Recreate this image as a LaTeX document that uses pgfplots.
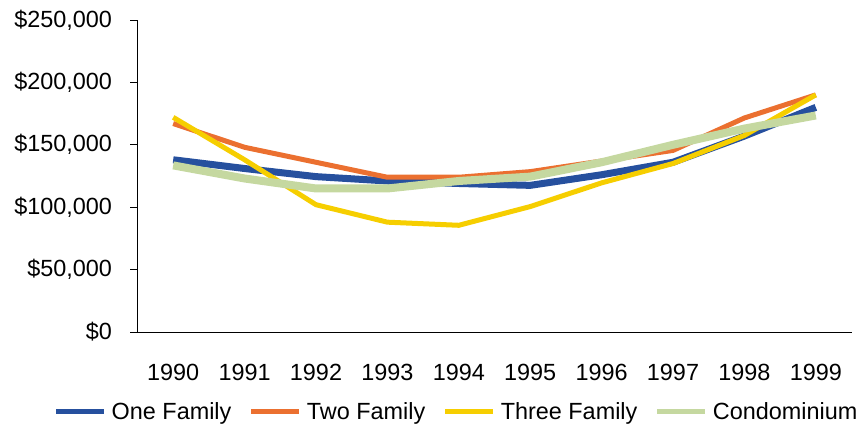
\documentclass[border=0pt]{standalone}
\usepackage{pgfplots}
\pgfplotsset{compat=1.18}
\usepackage{fontspec}
\setmainfont{Liberation Sans}
\definecolor{cOne}{RGB}{38,80,158}
\definecolor{cTwo}{RGB}{235,112,48}
\definecolor{cThree}{RGB}{246,206,0}
\definecolor{cCondo}{RGB}{197,216,160}
\begin{document}
\begin{tikzpicture}
\useasboundingbox (-137.5bp,-93bp) rectangle (721.5bp,332bp);
\begin{axis}[
  at={(0,0)}, anchor=south west,
  scale only axis,
  width=714bp, height=312bp,
  xmin=-0.5, xmax=9.5,
  ymin=0, ymax=250000,
  axis lines*=left,
  axis line style={black, line width=0.8bp},
  xtick={0,...,9},
  xticklabels={1990,1991,1992,1993,1994,1995,1996,1997,1998,1999},
  xtick style={draw=none},
  minor xtick={-0.5,0.5,...,9.5},
  minor tick length=7bp,
  major tick length=7bp,
  every minor tick/.style={black, line width=0.8bp},
  ytick={0,50000,...,250000},
  yticklabels={\$0,\$50{,}000,\$100{,}000,\$150{,}000,\$200{,}000,\$250{,}000},
  ytick style={black, line width=0.8bp},
  tick align=outside,
  tick pos=left,
  scaled y ticks=false,
  tick label style={font=\fontsize{23.5}{28}\selectfont},
  yticklabel style={xshift=-15bp},
  xticklabel style={yshift=-22bp},
  legend style={draw=none, at={(-0.1176,-0.2244)}, anchor=north west, legend columns=4,
    font=\fontsize{23.5}{28}\selectfont,
    nodes={inner sep=0pt},
    /tikz/every odd column/.style={column sep=5bp},
    /tikz/every even column/.style={column sep=17.5bp},
    inner sep=0pt},
  legend image code/.code={\draw[#1, line width=5bp] (0bp,0bp) -- (48bp,0bp);},
]
\addplot[cOne, line width=7bp] coordinates {(0,138000) (1,131000) (2,124500) (3,121000) (4,119000) (5,117500) (6,126000) (7,136000) (8,157000) (9,180000)};
\addlegendentry{One Family}
\addplot[cTwo, line width=5bp] coordinates {(0,167000) (1,148000) (2,136000) (3,124000) (4,124000) (5,128500) (6,137000) (7,145500) (8,171500) (9,190000)};
\addlegendentry{Two Family}
\addplot[cThree, line width=5bp] coordinates {(0,172000) (1,138000) (2,102000) (3,88000) (4,85500) (5,100500) (6,119500) (7,135000) (8,157500) (9,190000)};
\addlegendentry{Three Family}
\addplot[cCondo, line width=8bp] coordinates {(0,133500) (1,123000) (2,115000) (3,115000) (4,121000) (5,124500) (6,136000) (7,150000) (8,163000) (9,173500)};
\addlegendentry{Condominium}
\end{axis}
\end{tikzpicture}
\end{document}
